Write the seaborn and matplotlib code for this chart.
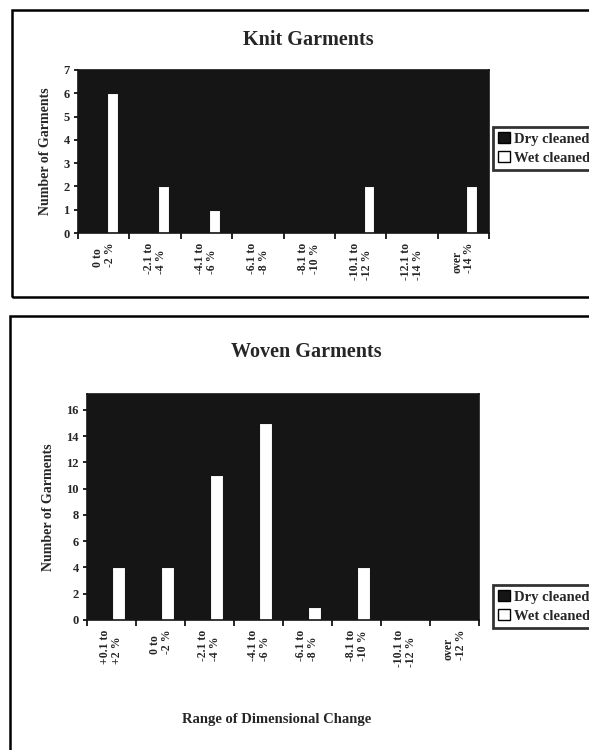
import matplotlib
matplotlib.use("Agg")
import matplotlib.pyplot as plt
import seaborn as sns
import pandas as pd
from matplotlib.patches import Rectangle, Patch

# ---- data ----
knit_labels = ["0 to\n-2 %", "-2.1 to\n-4 %", "-4.1 to\n-6 %", "-6.1 to\n-8 %",
               "-8.1 to\n-10 %", "-10.1 to\n-12 %", "-12.1 to\n-14 %", "over\n-14 %"]
knit_wet = [6, 2, 1, 0, 0, 2, 0, 2]
knit_dry = [0, 0, 0, 0, 0, 0, 0, 0]   # drawn black on black plot area (not visible)

woven_labels = ["+0.1 to\n+2 %", "0 to\n-2 %", "-2.1 to\n-4 %", "-4.1 to\n-6 %",
                "-6.1 to\n-8 %", "-8.1 to\n-10 %", "-10.1 to\n-12 %", "over\n-12 %"]
woven_wet = [4, 4, 11, 15, 1, 4, 0, 0]
woven_dry = [0, 0, 0, 0, 0, 0, 0, 0]

series = ["Dry cleaned", "Wet cleaned"]

sns.set_theme(style="white")
plt.rcParams['font.family'] = ['Liberation Serif', 'DejaVu Serif']
plt.rcParams['font.weight'] = 'bold'

W, H = 589, 750
fig = plt.figure(figsize=(W / 100, H / 100), dpi=100)
fig.patch.set_facecolor("white")


def fx(px):
    return px / W


def fy(py):
    return 1 - py / H


def make_df(labels, dry, wet):
    return pd.DataFrame({
        "cat": labels * 2,
        "val": dry + wet,
        "series": [series[0]] * len(labels) + [series[1]] * len(labels),
    })


def panel(ax, labels, dry, wet, ymax, ystep, width, gap):
    df = make_df(labels, dry, wet)
    sns.barplot(data=df, x="cat", y="val", hue="series", hue_order=series,
                order=labels, palette={series[0]: "#151515", series[1]: "white"},
                width=width, gap=gap, edgecolor="#151515", linewidth=0.8,
                ax=ax, legend=False)
    ax.set_facecolor("#151515")
    ax.set_ylim(0, ymax)
    ax.set_xlim(-0.5, len(labels) - 0.5)
    yt = list(range(0, int(ymax) + 1, ystep))
    ax.set_yticks(yt)
    ax.set_yticklabels([str(v) for v in yt], fontsize=9, fontweight="bold")
    ax.set_xticks(range(len(labels)))
    ax.set_xticklabels(labels, rotation=90, fontsize=8.5, fontweight="bold",
                       va="top", ha="center", multialignment="left",
                       linespacing=1.0)
    ax.set_xticks([i - 0.5 for i in range(len(labels) + 1)], minor=True)
    ax.tick_params(axis="x", which="major", length=0, pad=7)
    ax.tick_params(axis="x", which="minor", length=4, width=1.2, color="black",
                   bottom=True, direction="out")
    ax.tick_params(axis="y", length=3, width=1.2, color="black", left=True,
                   direction="out", pad=3)
    for s in ax.spines.values():
        s.set_color("#151515")
        s.set_linewidth(1.2)
    ax.set_xlabel("")
    ax.set_ylabel("Number of Garments", fontsize=10, fontweight="bold", labelpad=8)
    ax.grid(False)


# ---- Knit panel ----
ax1 = fig.add_axes([fx(78), fy(233), fx(489) - fx(78), fy(70) - fy(233)])
panel(ax1, knit_labels, knit_dry, knit_wet, 7, 1, 0.66, 0.36)
fig.text(fx(308), fy(40), "Knit Garments", ha="center", va="center",
         fontsize=14.5, fontweight="bold")

# ---- Woven panel ----
ax2 = fig.add_axes([fx(87), fy(620), fx(479) - fx(87), fy(394) - fy(620)])
panel(ax2, woven_labels, woven_dry, woven_wet, 17.2, 2, 0.55, 0.0)
fig.text(fx(306), fy(352), "Woven Garments", ha="center", va="center",
         fontsize=14.5, fontweight="bold")
fig.text(fx(277), fy(720), "Range of Dimensional Change", ha="center", va="center",
         fontsize=10.5, fontweight="bold")

# ---- legends ----
handles = [Patch(facecolor="#151515", edgecolor="black", label=series[0]),
           Patch(facecolor="white", edgecolor="black", label=series[1])]
for top in (127, 585):
    leg = fig.legend(handles=handles, loc="upper left",
                     bbox_to_anchor=(fx(493), fy(top)), frameon=True, fancybox=False,
                     fontsize=10.5, handlelength=0.8, handleheight=0.8,
                     handletextpad=0.3, borderpad=0.35, labelspacing=0.35,
                     borderaxespad=0)
    leg.get_frame().set_edgecolor("black")
    leg.get_frame().set_linewidth(2)
    for t in leg.get_texts():
        t.set_fontweight("bold")

# ---- scanned page frames ----
fig.add_artist(Rectangle((fx(12), fy(297)), fx(600) - fx(12), fy(10) - fy(297),
                         transform=fig.transFigure, fill=False, edgecolor="black",
                         linewidth=1.8))
fig.add_artist(Rectangle((fx(10), fy(760)), fx(600) - fx(10), fy(316) - fy(760),
                         transform=fig.transFigure, fill=False, edgecolor="black",
                         linewidth=1.8))

fig.savefig("out.png", dpi=100, facecolor="white")
